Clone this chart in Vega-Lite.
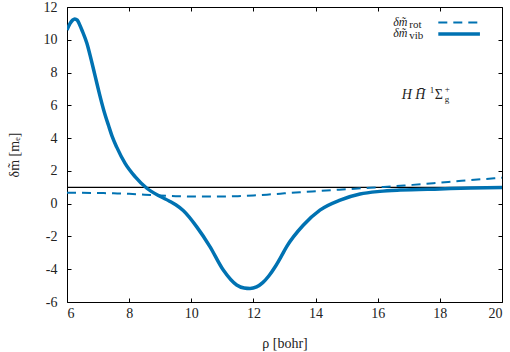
{
  "$schema": "https://vega.github.io/schema/vega-lite/v6.json",
  "width": 435,
  "height": 295,
  "autosize": {"type": "none"},
  "padding": {"left": 67, "top": 7, "right": 8, "bottom": 50},
  "data": {"values": [{}]},
  "config": {
    "view": {"stroke": null},
    "font": "Liberation Serif",
    "axis": {
      "grid": false,
      "domainColor": "#000000",
      "domainWidth": 1,
      "tickColor": "#000000",
      "tickSize": -4,
      "labelFont": "Liberation Serif",
      "labelFontSize": 14,
      "labelColor": "#222222",
      "titleFont": "Liberation Serif",
      "titleFontSize": 14,
      "titleFontWeight": "normal",
      "titleColor": "#222222"
    }
  },
  "datasets": {
    "vib": [
      {"rho": 6.0, "dm": 10.6}, {"rho": 6.1, "dm": 11.0}, {"rho": 6.18, "dm": 11.2}, {"rho": 6.25, "dm": 11.27},
      {"rho": 6.33, "dm": 11.2}, {"rho": 6.4, "dm": 10.95}, {"rho": 6.5, "dm": 10.5},
      {"rho": 6.64, "dm": 9.79}, {"rho": 6.78, "dm": 8.77}, {"rho": 6.91, "dm": 7.75}, {"rho": 7.04, "dm": 6.73},
      {"rho": 7.18, "dm": 5.72}, {"rho": 7.34, "dm": 4.75}, {"rho": 7.45, "dm": 4.12}, {"rho": 7.6, "dm": 3.45},
      {"rho": 7.87, "dm": 2.46}, {"rho": 8.19, "dm": 1.65}, {"rho": 8.57, "dm": 0.94}, {"rho": 8.99, "dm": 0.45},
      {"rho": 9.3, "dm": 0.15}, {"rho": 9.5, "dm": -0.07}, {"rho": 9.74, "dm": -0.42}, {"rho": 10.17, "dm": -1.4},
      {"rho": 10.6, "dm": -2.62}, {"rho": 11.03, "dm": -4.05}, {"rho": 11.46, "dm": -4.96}, {"rho": 11.7, "dm": -5.15},
      {"rho": 11.89, "dm": -5.18}, {"rho": 12.1, "dm": -5.08}, {"rho": 12.3, "dm": -4.82}, {"rho": 12.5, "dm": -4.4},
      {"rho": 12.7, "dm": -3.85}, {"rho": 12.9, "dm": -3.2}, {"rho": 13.07, "dm": -2.62}, {"rho": 13.61, "dm": -1.3}, {"rho": 14.14, "dm": -0.39},
      {"rho": 14.79, "dm": 0.22}, {"rho": 15.43, "dm": 0.59}, {"rho": 16.07, "dm": 0.75}, {"rho": 16.72, "dm": 0.83},
      {"rho": 18.0, "dm": 0.9}, {"rho": 19.0, "dm": 0.95}, {"rho": 20.0, "dm": 0.98}
    ],
    "rot": [
      {"rho": 6.0, "dm": 0.67}, {"rho": 7.0, "dm": 0.65}, {"rho": 7.5, "dm": 0.63}, {"rho": 8.0, "dm": 0.6},
      {"rho": 8.5, "dm": 0.55}, {"rho": 9.0, "dm": 0.5}, {"rho": 9.5, "dm": 0.46}, {"rho": 10.0, "dm": 0.44},
      {"rho": 10.5, "dm": 0.43}, {"rho": 11.0, "dm": 0.44}, {"rho": 11.5, "dm": 0.46}, {"rho": 12.0, "dm": 0.5},
      {"rho": 12.5, "dm": 0.56}, {"rho": 13.0, "dm": 0.63}, {"rho": 13.5, "dm": 0.7}, {"rho": 14.0, "dm": 0.76},
      {"rho": 14.5, "dm": 0.82}, {"rho": 15.0, "dm": 0.88}, {"rho": 15.5, "dm": 0.94}, {"rho": 16.0, "dm": 1.0},
      {"rho": 16.5, "dm": 1.06}, {"rho": 17.0, "dm": 1.13}, {"rho": 17.5, "dm": 1.2}, {"rho": 18.0, "dm": 1.28},
      {"rho": 18.5, "dm": 1.36}, {"rho": 19.0, "dm": 1.44}, {"rho": 19.5, "dm": 1.51}, {"rho": 20.0, "dm": 1.58}
    ]
  },
  "resolve": {"axis": {"x": "independent", "y": "independent"}},
  "layer": [
    {
      "mark": {"type": "rule", "color": "#000000", "strokeWidth": 1.3},
      "encoding": {
        "y": {"datum": 1, "type": "quantitative", "scale": {"domain": [-6, 12], "nice": false, "zero": false}, "axis": null}
      }
    },
    {
      "data": {"name": "rot"},
      "mark": {"type": "line", "color": "#0072b2", "strokeWidth": 2, "strokeDash": [9, 6], "interpolate": "monotone", "clip": true},
      "encoding": {
        "x": {"field": "rho", "type": "quantitative", "scale": {"domain": [6, 20], "nice": false, "zero": false},
              "axis": {"orient": "top", "labels": false, "title": null, "values": [6, 8, 10, 12, 14, 16, 18, 20]}},
        "y": {"field": "dm", "type": "quantitative", "scale": {"domain": [-6, 12], "nice": false, "zero": false},
              "axis": {"orient": "right", "labels": false, "title": null, "values": [-6, -4, -2, 0, 2, 4, 6, 8, 10, 12]}}
      }
    },
    {
      "data": {"name": "vib"},
      "mark": {"type": "line", "color": "#0072b2", "strokeWidth": 3.5, "interpolate": "monotone", "clip": true},
      "encoding": {
        "x": {"field": "rho", "type": "quantitative", "scale": {"domain": [6, 20], "nice": false, "zero": false},
              "axis": {"orient": "bottom", "title": "ρ [bohr]", "values": [6, 8, 10, 12, 14, 16, 18, 20],
                       "labelFont": "Liberation Serif", "titleFont": "Liberation Serif",
                       "labelPadding": 8, "titlePadding": 16, "labelExpr": "'' + datum.value"}},
        "y": {"field": "dm", "type": "quantitative", "scale": {"domain": [-6, 12], "nice": false, "zero": false},
              "axis": {"orient": "left", "title": "δm̃ [mₑ]", "values": [-6, -4, -2, 0, 2, 4, 6, 8, 10, 12],
                       "labelFont": "Liberation Serif", "titleFont": "Liberation Serif",
                       "labelPadding": 14, "titlePadding": 22, "labelExpr": "'' + datum.value"}}
      }
    },
    {
      "mark": {"type": "rule", "color": "#0072b2", "strokeWidth": 2, "strokeDash": [9, 6]},
      "encoding": {
        "x": {"datum": 17.95, "type": "quantitative", "axis": null},
        "x2": {"datum": 19.29},
        "y": {"datum": 11.05, "type": "quantitative", "axis": null}
      }
    },
    {
      "mark": {"type": "rule", "color": "#0072b2", "strokeWidth": 3.5},
      "encoding": {
        "x": {"datum": 17.95, "type": "quantitative", "axis": null},
        "x2": {"datum": 19.29},
        "y": {"datum": 10.35, "type": "quantitative", "axis": null}
      }
    },
    {
      "mark": {"type": "text", "align": "left", "baseline": "alphabetic", "fontSize": 12, "fontStyle": "italic", "dy": 3, "color": "#222222"},
      "encoding": {
        "x": {"datum": 16.5, "type": "quantitative", "axis": null},
        "y": {"datum": 11.05, "type": "quantitative", "axis": null},
        "text": {"value": "δm̃"}
      }
    },
    {
      "mark": {"type": "text", "align": "left", "baseline": "alphabetic", "fontSize": 11, "dx": 16, "dy": 5, "color": "#222222"},
      "encoding": {
        "x": {"datum": 16.5, "type": "quantitative", "axis": null},
        "y": {"datum": 11.05, "type": "quantitative", "axis": null},
        "text": {"value": "rot"}
      }
    },
    {
      "mark": {"type": "text", "align": "left", "baseline": "alphabetic", "fontSize": 12, "fontStyle": "italic", "dy": 3, "color": "#222222"},
      "encoding": {
        "x": {"datum": 16.5, "type": "quantitative", "axis": null},
        "y": {"datum": 10.35, "type": "quantitative", "axis": null},
        "text": {"value": "δm̃"}
      }
    },
    {
      "mark": {"type": "text", "align": "left", "baseline": "alphabetic", "fontSize": 11, "dx": 16, "dy": 5, "color": "#222222"},
      "encoding": {
        "x": {"datum": 16.5, "type": "quantitative", "axis": null},
        "y": {"datum": 10.35, "type": "quantitative", "axis": null},
        "text": {"value": "vib"}
      }
    },
    {
      "mark": {"type": "text", "align": "left", "baseline": "alphabetic", "fontSize": 14, "fontStyle": "italic", "dy": 4, "color": "#222222"},
      "encoding": {
        "x": {"datum": 16.77, "type": "quantitative", "axis": null},
        "y": {"datum": 6.63, "type": "quantitative", "axis": null},
        "text": {"value": "H H̄"}
      }
    },
    {
      "mark": {"type": "text", "align": "left", "baseline": "alphabetic", "fontSize": 9, "dx": 28, "dy": -2, "color": "#222222"},
      "encoding": {
        "x": {"datum": 16.77, "type": "quantitative", "axis": null},
        "y": {"datum": 6.63, "type": "quantitative", "axis": null},
        "text": {"value": "1"}
      }
    },
    {
      "mark": {"type": "text", "align": "left", "baseline": "alphabetic", "fontSize": 14, "dx": 33, "dy": 4, "color": "#222222"},
      "encoding": {
        "x": {"datum": 16.77, "type": "quantitative", "axis": null},
        "y": {"datum": 6.63, "type": "quantitative", "axis": null},
        "text": {"value": "Σ"}
      }
    },
    {
      "mark": {"type": "text", "align": "left", "baseline": "alphabetic", "fontSize": 9, "dx": 43, "dy": -3, "color": "#222222"},
      "encoding": {
        "x": {"datum": 16.77, "type": "quantitative", "axis": null},
        "y": {"datum": 6.63, "type": "quantitative", "axis": null},
        "text": {"value": "+"}
      }
    },
    {
      "mark": {"type": "text", "align": "left", "baseline": "alphabetic", "fontSize": 9, "dx": 43, "dy": 7, "color": "#222222"},
      "encoding": {
        "x": {"datum": 16.77, "type": "quantitative", "axis": null},
        "y": {"datum": 6.63, "type": "quantitative", "axis": null},
        "text": {"value": "g"}
      }
    }
  ]
}
